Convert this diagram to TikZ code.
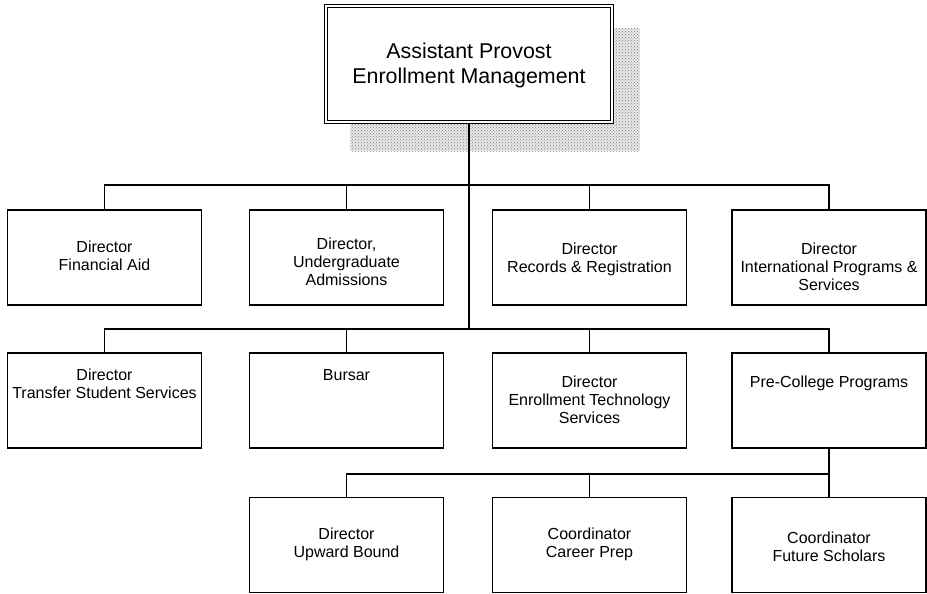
\documentclass[tikz,border=0pt]{standalone}
\usepackage{fontspec}
\setmainfont{Liberation Sans}
\usetikzlibrary{patterns}
\begin{document}
\begin{tikzpicture}[x=1pt,y=-1pt,
  box/.style={draw=black, line width=1.5pt, fill=white, minimum width=194pt, minimum height=95pt, inner sep=0pt},
  topbox/.style={draw=black, line width=1.4pt, double=white, double distance=2pt, fill=white,
                 minimum width=286pt, minimum height=116pt, inner sep=0pt},
  txt/.style={align=center, font=\fontsize{16}{18}\selectfont, inner sep=0pt},
  toptxt/.style={align=center, font=\fontsize{21.4}{25}\selectfont, inner sep=0pt},
  conn/.style={draw=black, line width=1.2pt},
  shade/.style={pattern=crosshatch dots, pattern color=gray}]
\useasboundingbox (0,0) rectangle (927,594);

% shadow of the top box
\fill[gray!18] (350,28) rectangle (640,151);
\fill[shade] (350,28) rectangle (640,151);

% top box
\node[topbox] (top) at (469,64) {};
\node[toptxt] (toplabel) at (469,65) {Assistant Provost\\Enrollment Management};

% row 1
\node[box] (fa) at (104.5,257.5) {};
\node[box] (ua) at (346.5,257.5) {};
\node[box] (rr) at (589.5,257.5) {};
\node[box] (ip) at (829,257.5) {};
\node[txt] (faT) at (104.5,255.5) {Director\\Financial Aid};
\node[txt] (uaT) at (346.5,261.5) {Director,\\Undergraduate\\Admissions};
\node[txt] (rrT) at (589.5,259) {Director\\Records \& Registration};
\node[txt] (ipT) at (829,266.5) {Director\\International Programs \&\\Services};

% row 2
\node[box] (ts) at (104.5,400.5) {};
\node[box] (bu) at (346.5,400.5) {};
\node[box] (et) at (589.5,400.5) {};
\node[box] (pc) at (829,400.5) {};
\node[txt] (tsT) at (104.5,384) {Director\\Transfer Student Services};
\node[txt] (buT) at (346.5,375) {Bursar};
\node[txt] (etT) at (589.5,400) {Director\\Enrollment Technology\\Services};
\node[txt] (pcT) at (829,383) {Pre-College Programs};

% row 3
\node[box] (ub) at (346.5,545) {};
\node[box] (cp) at (589.5,545) {};
\node[box] (fs) at (829,545) {};
\node[txt] (ubT) at (346.5,544.5) {Director\\Upward Bound};
\node[txt] (cpT) at (589.5,544.5) {Coordinator\\Career Prep};
\node[txt] (fsT) at (829,546.5) {Coordinator\\Future Scholars};

% junctions
\coordinate (j1) at (469,185);
\coordinate (j2) at (469,329);
\coordinate (j3) at (829,474);

% connectors
\draw[conn] (top.south) -- (j2);
\draw[conn] (fa.north) |- (j1) -| (ip.north);
\draw[conn] (ua.north) -- (ua.north |- j1);
\draw[conn] (rr.north) -- (rr.north |- j1);
\draw[conn] (ts.north) |- (j2) -| (pc.north);
\draw[conn] (bu.north) -- (bu.north |- j2);
\draw[conn] (et.north) -- (et.north |- j2);
\draw[conn] (pc.south) -- (fs.north);
\draw[conn] (ub.north) |- (j3);
\draw[conn] (cp.north) -- (cp.north |- j3);
\end{tikzpicture}
\end{document}
